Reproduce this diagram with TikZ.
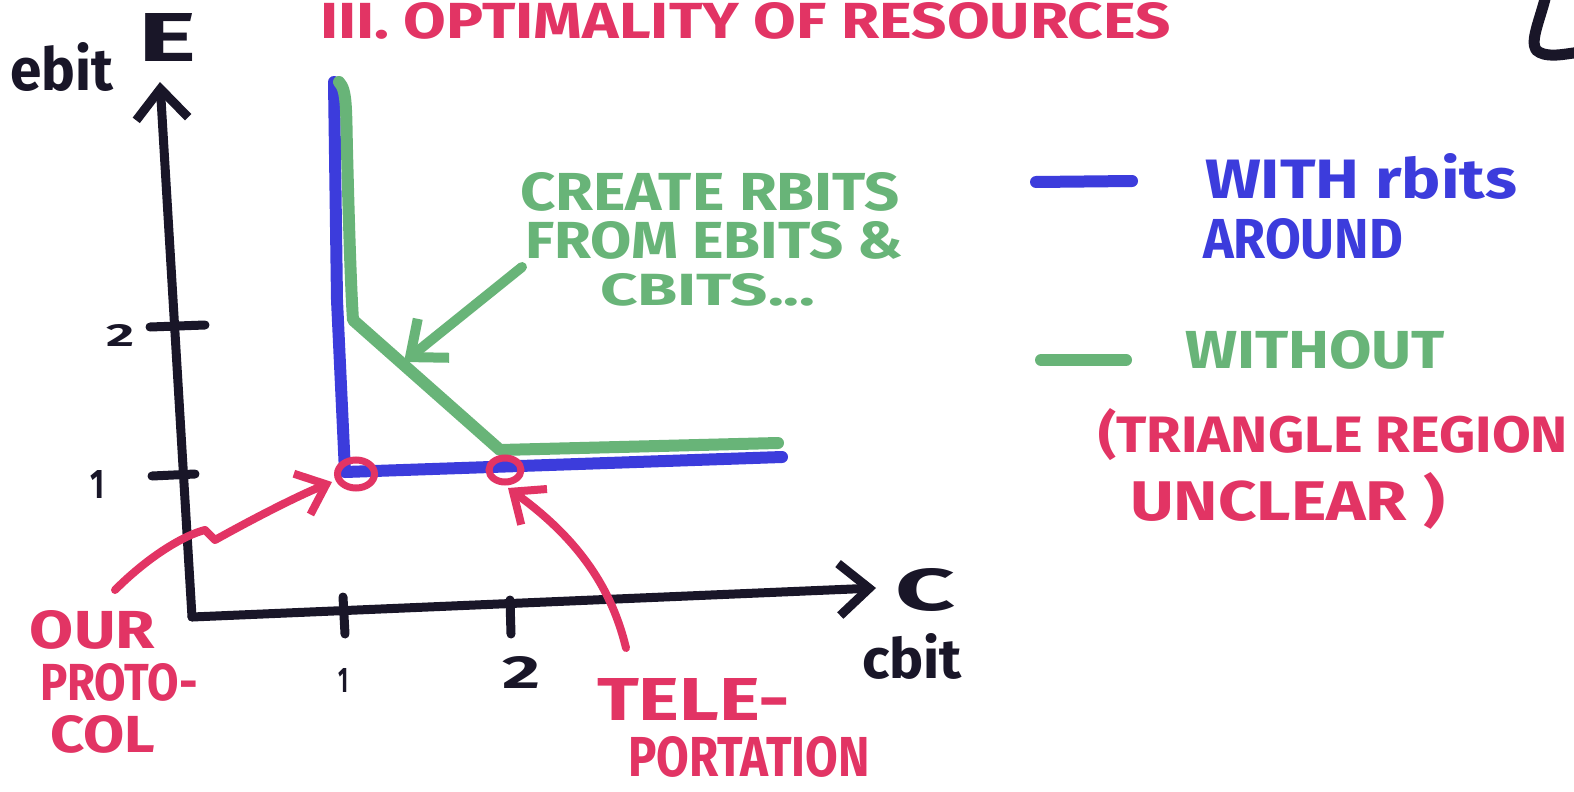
\documentclass[tikz,border=0pt]{standalone}
\usepackage{fontspec}
\setmainfont{Fira Sans}
\usetikzlibrary{arrows.meta,shapes.geometric}
\definecolor{mred}{RGB}{226,52,100}
\definecolor{mgreen}{RGB}{104,180,120}
\definecolor{mblue}{RGB}{60,60,220}
\definecolor{mblack}{RGB}{25,22,40}
\newcommand{\hw}[3]{\resizebox{#1pt}{#2pt}{\bfseries #3}}
\tikzset{
  lbl/.style={anchor=base west,inner sep=0pt,outer sep=0pt},
  axisline/.style={mblack,line width=9pt,line cap=round,line join=round},
  tickline/.style={mblack,line width=9pt,line cap=round},
  bluecurve/.style={mblue,line width=12pt,line cap=round,line join=round},
  greencurve/.style={mgreen,line width=12pt,line cap=round,line join=round},
  redarrow/.style={mred,line width=8pt,line cap=round,line join=round,-{Straight Barb[length=26pt,width=44pt,line width=8pt]}},
  greenarrow/.style={mgreen,line width=10pt,line cap=round,line join=round,-{Straight Barb[length=30pt,width=50pt,line width=10pt]}},
  axisarrow/.style={axisline,-{Straight Barb[length=30pt,width=52pt,line width=9pt]}},
  ring/.style={draw=mred,line width=7pt,ellipse,inner sep=0pt},
}
\begin{document}
\begin{tikzpicture}[x=1pt,y=-1pt]
\useasboundingbox (0,0) rectangle (1574,792);
\clip (0,0) rectangle (1574,792);
\fill[white] (0,0) rectangle (1574,792);
% title
\node[lbl,text=mred] (title) at (320,38) {\hw{850}{36}{III. OPTIMALITY OF RESOURCES}};
% top-right mark
\draw[mblack,line width=11pt,line cap=round,line join=round] (1546,-5) .. controls (1540,20) and (1530,40) .. (1536,50) .. controls (1545,58) and (1560,55) .. (1580,52);
% axes
\coordinate (O) at (192,617);
\coordinate (ytop) at (160,82);
\coordinate (xend) at (876,588);
\draw[axisarrow] (O) -- (ytop);
\draw[axisarrow] (O) -- (xend);
% ticks
\coordinate (ty2a) at (150,327); \coordinate (ty2b) at (205,325);
\coordinate (ty1a) at (152,476); \coordinate (ty1b) at (195,474);
\coordinate (tx1a) at (343,597); \coordinate (tx1b) at (345,634);
\coordinate (tx2a) at (510,600); \coordinate (tx2b) at (511,634);
\draw[tickline] (ty2a) -- (ty2b);
\draw[tickline] (ty1a) -- (ty1b);
\draw[tickline] (tx1a) -- (tx1b);
\draw[tickline] (tx2a) -- (tx2b);
% axis labels
\node[lbl,text=mblack] (E) at (138,62) {\hw{58}{48}{E}};
\node[lbl,text=mblack] (ebit) at (10,90) {\hw{103}{48}{ebit}};
\node[lbl,text=mblack] (C) at (895,610) {\hw{60}{42}{C}};
\node[lbl,text=mblack] (cbit) at (862,678) {\hw{100}{45}{cbit}};
\node[lbl,text=mblack] (y2) at (106,346) {\hw{28}{22}{2}};
\node[lbl,text=mblack] (y1) at (90,498) {\hw{14}{28}{1}};
\node[lbl,text=mblack] (x1) at (338,692) {\hw{10}{24}{1}};
\node[lbl,text=mblack] (x2) at (502,688) {\hw{38}{32}{2}};
% curves
\coordinate (b0) at (334,82);
\coordinate (b1) at (345,472);
\coordinate (b2) at (782,457);
\draw[bluecurve] (b0) -- (337,300) -- (b1) -- (b2);
\coordinate (g0) at (339,82);
\coordinate (g1) at (353,320);
\coordinate (g2) at (500,450);
\coordinate (g3) at (778,443);
\draw[greencurve] (g0) .. controls (347,90) and (346,110) .. (347,150) .. controls (349,230) and (351,290) .. (g1) -- (g2) -- (g3);
% rings
\node[ring,minimum width=37pt,minimum height=28pt] (p1) at (356,474) {};
\node[ring,minimum width=32pt,minimum height=24pt] (p2) at (505,470) {};
% green annotation
\node[lbl,text=mgreen] (g_l1) at (520,210) {\hw{380}{38}{CREATE RBITS}};
\node[lbl,text=mgreen] (g_l2) at (525,258) {\hw{378}{37}{FROM EBITS \&}};
\node[lbl,text=mgreen] (g_l3) at (600,305) {\hw{215}{32}{CBITS...}};
\coordinate (ga) at (522,267);
\coordinate (gb) at (404,362);
\draw[greenarrow] (ga) -- (gb);
% red annotations
\node[lbl,text=mred] (our) at (30,648) {\hw{125}{38}{OUR}};
\node[lbl,text=mred] (proto) at (40,700) {\hw{158}{37}{PROTO-}};
\node[lbl,text=mred] (col) at (50,752) {\hw{105}{37}{COL}};
\coordinate (ra) at (115,590);
\coordinate (rb) at (332,482);
\draw[redarrow] (ra) .. controls (150,555) and (185,535) .. (205,530) -- (215,540) .. controls (260,515) and (300,495) .. (rb);
\node[lbl,text=mred] (tele) at (597,720) {\hw{193}{42}{TELE-}};
\node[lbl,text=mred] (port) at (628,776) {\hw{242}{40}{PORTATION}};
\coordinate (ta) at (626,648);
\coordinate (tb) at (508,488);
\draw[redarrow] (ta) .. controls (612,590) and (580,540) .. (tb);
% legend
\coordinate (lb0) at (1036,182); \coordinate (lb1) at (1132,181);
\draw[mblue,line width=12pt,line cap=round] (lb0) -- (lb1);
\node[lbl,text=mblue] (leg1) at (1205,198) {\hw{312}{45}{WITH rbits}};
\node[lbl,text=mblue] (leg1b) at (1203,258) {\hw{200}{40}{AROUND}};
\coordinate (lg0) at (1041,360); \coordinate (lg1) at (1126,360);
\draw[mgreen,line width=12pt,line cap=round] (lg0) -- (lg1);
\node[lbl,text=mgreen] (leg2) at (1185,368) {\hw{260}{38}{WITHOUT}};
\node[lbl,text=mred] (tri) at (1098,452) {\hw{470}{44}{(TRIANGLE REGION}};
\node[lbl,text=mred] (uncl) at (1130,520) {\hw{315}{48}{UNCLEAR )}};
\end{tikzpicture}
\end{document}
